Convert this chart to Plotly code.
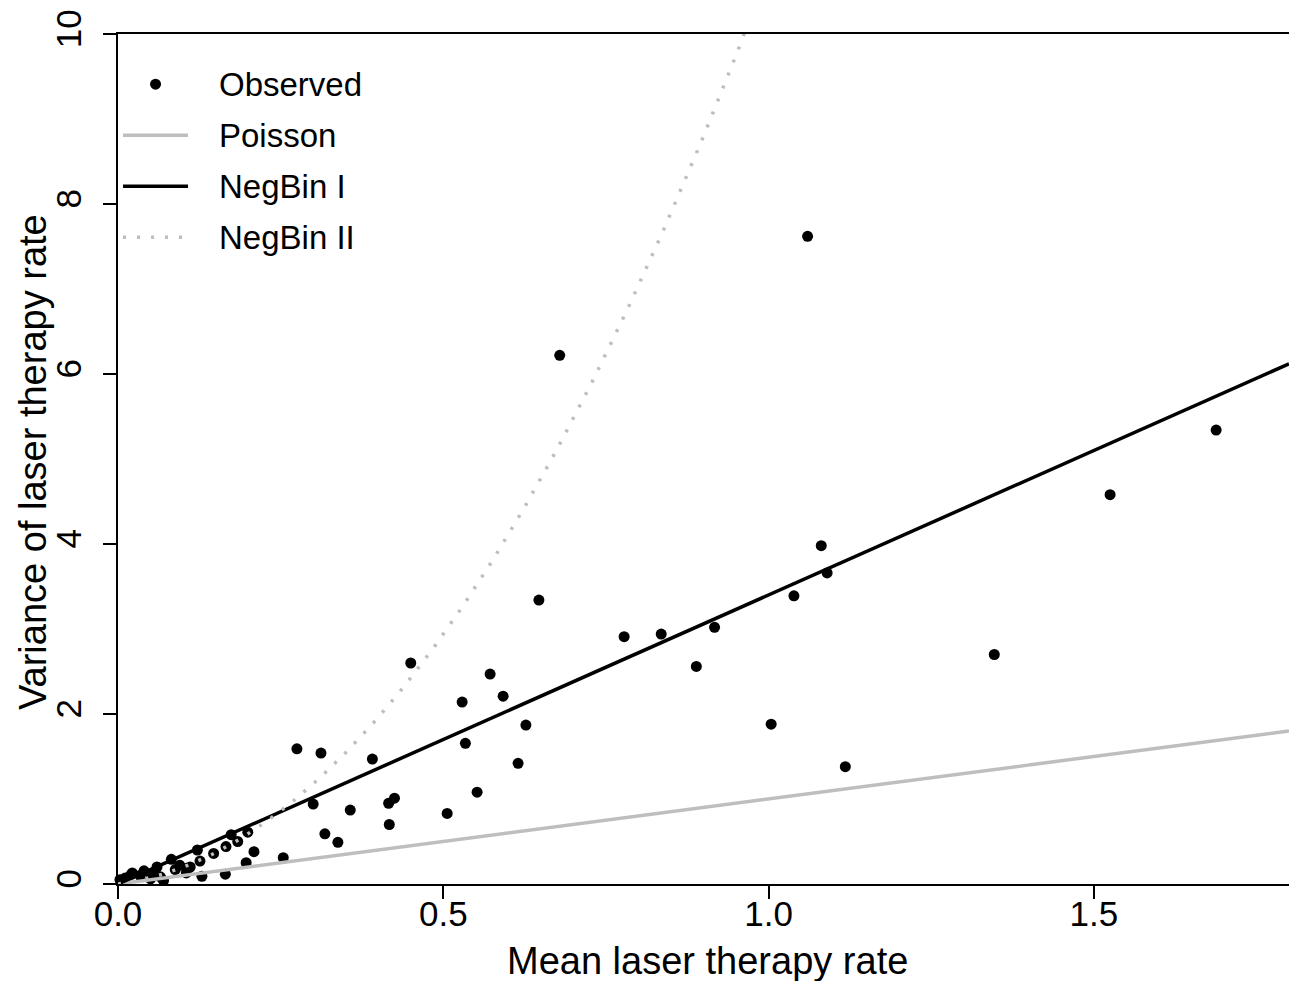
import numpy as np
import plotly.graph_objects as go

# Observed mean vs variance of laser therapy rate
mean_rate = [0.003, 0.011, 0.020, 0.022, 0.034, 0.040, 0.050, 0.055, 0.060, 0.065,
             0.070, 0.082, 0.088, 0.095, 0.105, 0.106, 0.111, 0.122, 0.126, 0.129,
             0.147, 0.166, 0.165, 0.174, 0.184, 0.197, 0.1995, 0.209, 0.254,
             0.275, 0.300, 0.312, 0.318, 0.338, 0.357, 0.391, 0.416, 0.417, 0.425,
             0.450, 0.506, 0.529, 0.534, 0.552, 0.572, 0.592, 0.615, 0.627, 0.647,
             0.679, 0.778, 0.835, 0.889, 0.917, 1.004, 1.039, 1.060, 1.081, 1.090,
             1.118, 1.347, 1.525, 1.688]
var_rate = [0.05, 0.07, 0.11, 0.13, 0.10, 0.155, 0.06, 0.13, 0.20, 0.085,
            0.04, 0.29, 0.17, 0.22, 0.13, 0.185, 0.20, 0.40, 0.27, 0.09,
            0.36, 0.44, 0.115, 0.58, 0.50, 0.25, 0.61, 0.38, 0.31,
            1.59, 0.94, 1.54, 0.59, 0.49, 0.87, 1.47, 0.95, 0.70, 1.01,
            2.60, 0.83, 2.14, 1.655, 1.08, 2.47, 2.21, 1.42, 1.87, 3.34,
            6.22, 2.91, 2.94, 2.56, 3.02, 1.88, 3.39, 7.62, 3.98, 3.66,
            1.38, 2.70, 4.58, 5.34]

# Fitted variance functions
negbin1_phi = 3.4      # Var = phi * mu
negbin2_alpha = 9.75   # Var = mu + alpha * mu^2
mu_grid = np.linspace(0.0, 1.8, 400)
poisson_var = mu_grid
negbin1_var = negbin1_phi * mu_grid
negbin2_var = mu_grid + negbin2_alpha * mu_grid ** 2

x_ticks = [0.0, 0.5, 1.0, 1.5]
y_ticks = [0, 2, 4, 6, 8, 10]
legend_labels = ["Observed", "Poisson", "NegBin I", "NegBin II"]
x_title = "Mean laser therapy rate"
y_title = "Variance of laser therapy rate"

FONT = "Liberation Sans, Arial, Helvetica, sans-serif"
GREY = "#BEBEBE"
DOT = "3px,11px"

fig = go.Figure()
fig.add_trace(go.Scatter(x=mean_rate, y=var_rate, mode="markers", name=legend_labels[0],
                         marker=dict(color="black", size=11, line=dict(width=0)),
                         cliponaxis=False, showlegend=False))
fig.add_trace(go.Scatter(x=mu_grid, y=poisson_var, mode="lines", name=legend_labels[1],
                         line=dict(color=GREY, width=3.5), showlegend=False))
fig.add_trace(go.Scatter(x=mu_grid, y=negbin1_var, mode="lines", name=legend_labels[2],
                         line=dict(color="black", width=3.5), showlegend=False))
fig.add_trace(go.Scatter(x=mu_grid, y=negbin2_var, mode="lines", name=legend_labels[3],
                         line=dict(color=GREY, width=3.5, dash=DOT), showlegend=False))

# Legend drawn inside the plot (paper coordinates)
row_y = [0.941, 0.881, 0.821, 0.761]
sym_x0, sym_x1, txt_x = 0.0043, 0.0598, 0.0845
shapes = []
annotations = []
shapes.append(dict(type="circle", xref="paper", yref="paper", xsizemode="pixel", ysizemode="pixel",
                   xanchor=(sym_x0 + sym_x1) / 2, yanchor=row_y[0], x0=-5.5, x1=5.5, y0=-5.5, y1=5.5,
                   fillcolor="black", line=dict(width=0)))
line_styles = [dict(color=GREY, width=3.5), dict(color="black", width=3.5),
               dict(color=GREY, width=3.5, dash=DOT)]
for yy, ls in zip(row_y[1:], line_styles):
    shapes.append(dict(type="line", xref="paper", yref="paper", x0=sym_x0, x1=sym_x1,
                       y0=yy, y1=yy, line=ls))
for yy, lab in zip(row_y, legend_labels):
    annotations.append(dict(text=lab, xref="paper", yref="paper", x=txt_x, y=yy,
                            xanchor="left", yanchor="middle", showarrow=False,
                            font=dict(size=33, family=FONT, color="black")))
annotations.append(dict(text=x_title, xref="paper", yref="paper", x=0.503, y=-0.091,
                        xanchor="center", yanchor="middle", showarrow=False,
                        font=dict(size=38, family=FONT, color="black")))
annotations.append(dict(text=y_title, xref="paper", yref="paper", x=-0.0726, y=0.4965,
                        xanchor="center", yanchor="middle", showarrow=False, textangle=-90,
                        font=dict(size=38, family=FONT, color="black")))

fig.update_layout(
    width=1289, height=981,
    margin=dict(l=118, r=0, t=34, b=97),
    paper_bgcolor="white", plot_bgcolor="white",
    font=dict(family=FONT, color="black", size=34),
    showlegend=False,
    shapes=shapes, annotations=annotations,
)
fig.update_xaxes(range=[0, 1.8], tickvals=x_ticks, ticktext=[f"{v:.1f}" for v in x_ticks],
                 showgrid=False, zeroline=False, showline=True, linecolor="black", linewidth=1.5,
                 mirror=True, ticks="outside", ticklen=13, tickwidth=1.5, tickcolor="black",
                 tickfont=dict(size=35, family=FONT), ticklabelstandoff=-15)
fig.update_yaxes(range=[0, 10], tickvals=y_ticks, ticktext=[str(v) for v in y_ticks],
                 showgrid=False, zeroline=False, showline=True, linecolor="black", linewidth=1.5,
                 ticks="outside", ticklen=13, tickwidth=1.5, tickcolor="black", tickangle=-90,
                 tickfont=dict(size=35, family=FONT), ticklabelstandoff=8)

fig.write_html("out.html")
